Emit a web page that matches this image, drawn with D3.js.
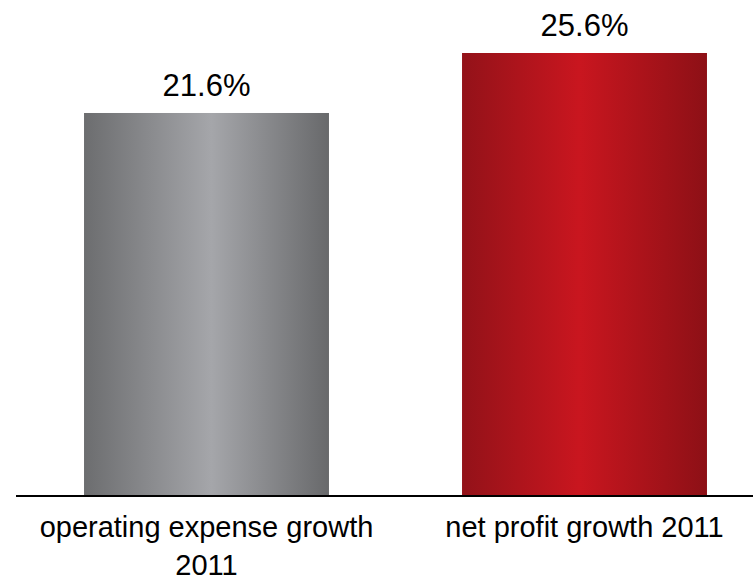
<!DOCTYPE html>
<html>
<head>
<meta charset="utf-8">
<script src="https://cdn.jsdelivr.net/npm/d3@7"></script>
<style>
  html, body { margin: 0; padding: 0; background: #ffffff; }
  svg { display: block; }
  text { font-family: "Liberation Sans", Arial, sans-serif; fill: #000; }
</style>
</head>
<body>
<svg id="chart" width="753" height="581"></svg>
<script>
// ---- data ----
const categories = ["operating expense growth 2011", "net profit growth 2011"];
const values = [21.6, 25.6];
const valueLabels = ["21.6%", "25.6%"];
const axisMin = -3.87; // value axis minimum (bars start at the axis)
const axisMax = 25.6;

// ---- layout ----
const W = 753, H = 581;
const baseY = 495, topY = 53;
const svg = d3.select("#chart");

const x = d3.scaleBand()
  .domain(categories)
  .range([17.5, 773.5])
  .paddingInner(0.352)
  .paddingOuter(0.176);

const y = d3.scaleLinear()
  .domain([axisMin, axisMax])
  .range([baseY, topY]);

// gradients
const defs = svg.append("defs");
const gradSpecs = [
  { id: "g0", stops: [[0, "#6c6d6f"], [0.52, "#a5a6aa"], [1, "#68696b"]] },
  { id: "g1", stops: [[0, "#931219"], [0.48, "#c9161f"], [1, "#8d1016"]] }
];
gradSpecs.forEach(g => {
  const lg = defs.append("linearGradient").attr("id", g.id)
    .attr("x1", "0%").attr("x2", "100%").attr("y1", "0%").attr("y2", "0%");
  g.stops.forEach(s => lg.append("stop").attr("offset", s[0]).attr("stop-color", s[1]));
});

const data = categories.map((c, i) => ({ c, v: values[i], label: valueLabels[i], i }));

// bars
svg.selectAll("rect.bar").data(data).enter().append("rect")
  .attr("class", "bar")
  .attr("x", d => x(d.c))
  .attr("width", x.bandwidth())
  .attr("y", d => y(d.v))
  .attr("height", d => y(axisMin) - y(d.v))
  .attr("fill", d => `url(#g${d.i})`);

// value labels
svg.selectAll("text.val").data(data).enter().append("text")
  .attr("class", "val")
  .attr("x", d => x(d.c) + x.bandwidth() / 2)
  .attr("y", d => y(d.v) - 17)
  .attr("text-anchor", "middle")
  .style("font-size", "31px")
  .text(d => d.label);

// baseline axis
const xAxis = d3.axisBottom(x).tickSize(0).tickFormat("");
const axG = svg.append("g").attr("transform", `translate(0,${baseY + 1})`).call(xAxis);
axG.select(".domain").remove();
axG.append("line")
  .attr("x1", 16).attr("x2", W)
  .attr("y1", 0).attr("y2", 0)
  .attr("stroke", "#000").attr("stroke-width", 2);

// category labels with wrapping
const maxW = 360;
const lineH = 38;
data.forEach(d => {
  const t = svg.append("text")
    .attr("x", x(d.c) + x.bandwidth() / 2)
    .attr("y", 537)
    .attr("text-anchor", "middle")
    .style("font-size", "29px");
  const words = d.c.split(" ");
  let line = [];
  let lineNo = 0;
  let tspan = t.append("tspan").attr("x", x(d.c) + x.bandwidth() / 2).attr("dy", 0);
  words.forEach(w => {
    line.push(w);
    tspan.text(line.join(" "));
    if (tspan.node().getComputedTextLength() > maxW && line.length > 1) {
      line.pop();
      tspan.text(line.join(" "));
      line = [w];
      lineNo++;
      tspan = t.append("tspan").attr("x", x(d.c) + x.bandwidth() / 2).attr("dy", lineH).text(w);
    }
  });
});
</script>
</body>
</html>
